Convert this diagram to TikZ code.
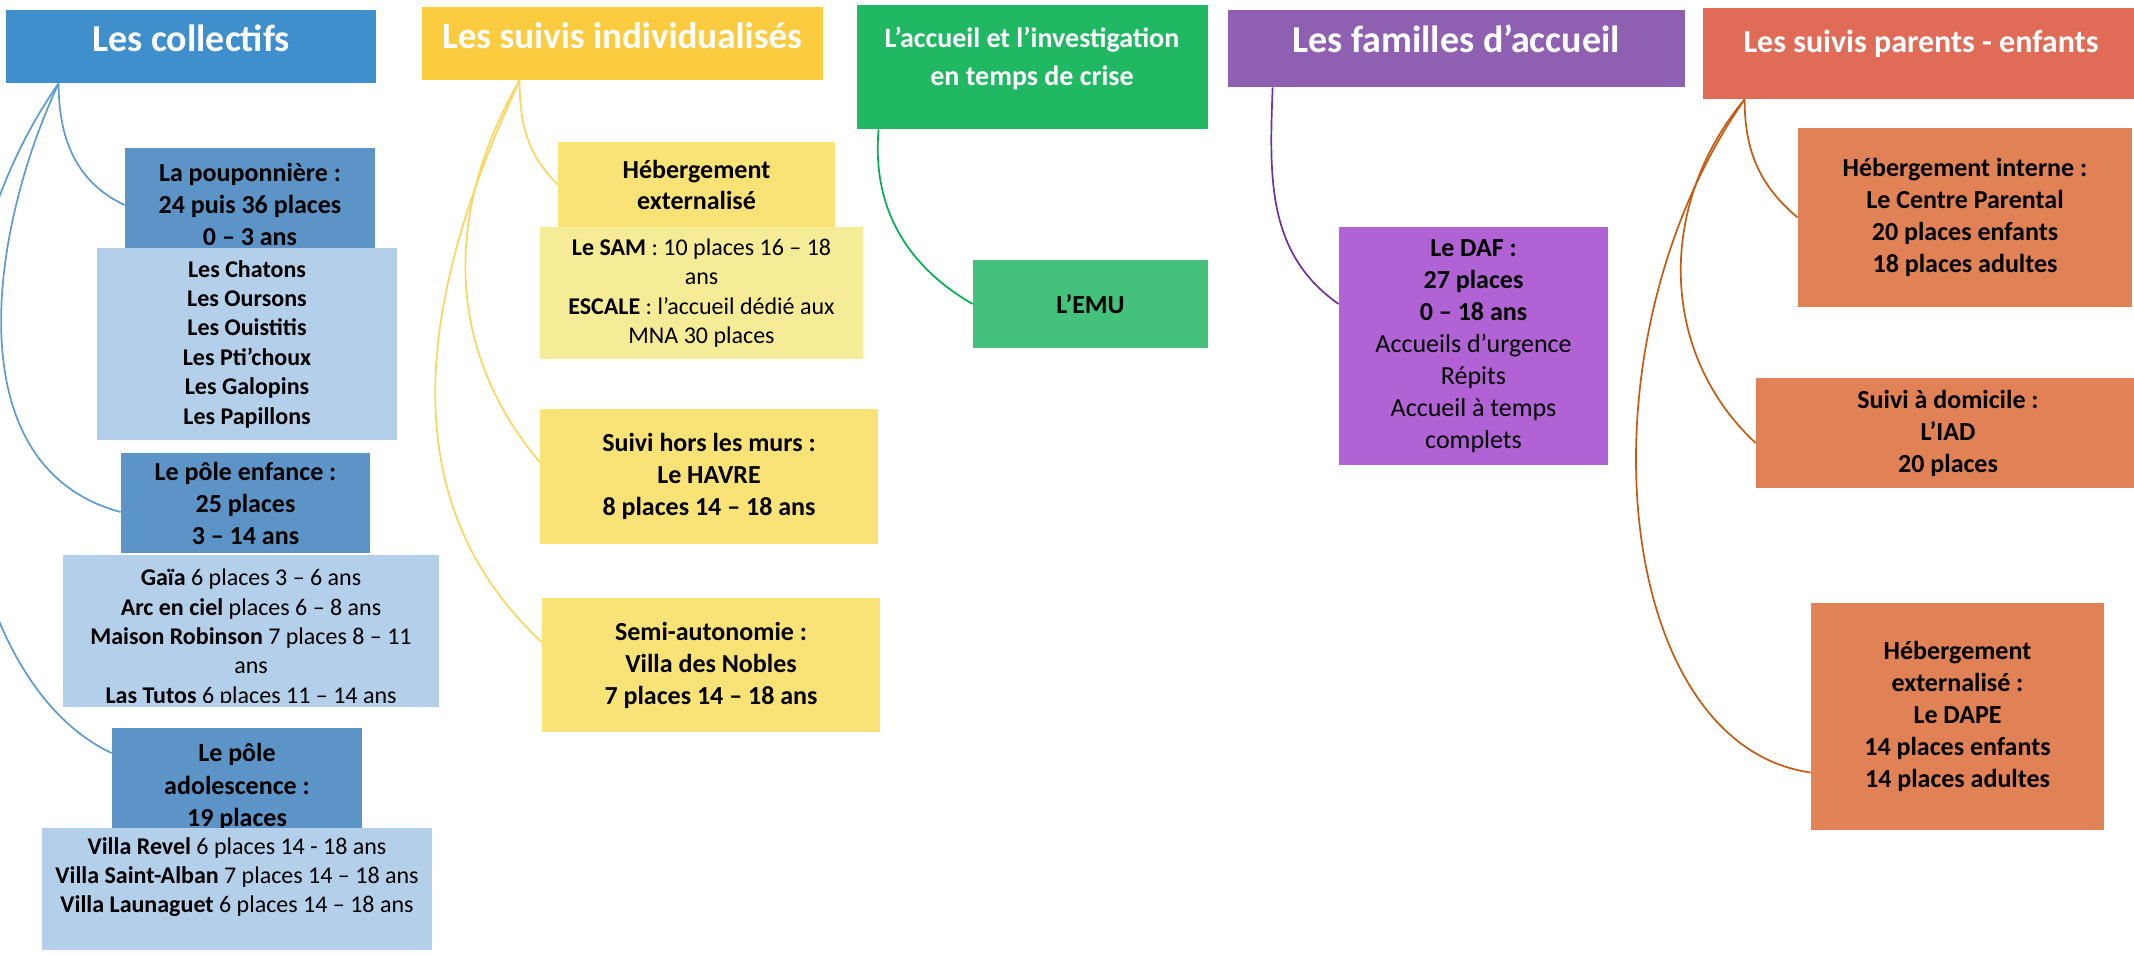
\documentclass[tikz,border=0pt]{standalone}
\usepackage{fontspec}
\setmainfont{Carlito}
\definecolor{HdBlue}{RGB}{62,143,204}
\definecolor{BlueDark}{RGB}{92,148,199}
\definecolor{BlueLight}{RGB}{179,207,233}
\definecolor{HdYellow}{RGB}{251,203,64}
\definecolor{YellowBox}{RGB}{250,227,118}
\definecolor{YellowLight}{RGB}{246,235,150}
\definecolor{HdGreen}{RGB}{33,184,100}
\definecolor{EmuGreen}{RGB}{68,194,124}
\definecolor{HdPurple}{RGB}{143,96,178}
\definecolor{DafPurple}{RGB}{177,99,213}
\definecolor{HdOrange}{RGB}{224,108,88}
\definecolor{OrangeBox}{RGB}{225,129,86}
\definecolor{LineBlue}{RGB}{91,155,213}
\definecolor{LineYellow}{RGB}{255,212,92}
\definecolor{LineGreen}{RGB}{0,176,80}
\definecolor{LinePurple}{RGB}{112,48,160}
\definecolor{LineOrange}{RGB}{197,90,17}

\begin{document}
\begin{tikzpicture}[x = 0.5pt, y = -0.5pt]
\tikzstyle{HeadStyle}=[
shape = rectangle,
inner sep = 0pt]
\tikzstyle{HeadText}=[
anchor = base,
inner sep = 0pt,
text = white,
font = \fontsize{19}{23}\selectfont\bfseries]
\tikzstyle{BoxStyle}=[
shape = rectangle,
inner sep = 0pt,
align = center,
font = \fontsize{13}{16}\selectfont\bfseries]
\tikzstyle{ListStyle}=[
shape = rectangle,
inner sep = 0pt,
align = center,
font = \fontsize{12}{14.7}\selectfont]
\tikzstyle{LinkStyle}=[
line width = 0.85pt]
\useasboundingbox (0,0) rectangle (2134,954);
\clip (0,0) rectangle (2134,954);
\node[HeadStyle, fill = HdBlue, minimum width = 185pt, minimum height = 36.5pt] (collectifs) at (191,46.5) {};
\node[HeadText] (collectifs-t) at (191,51) {Les collectifs};
\node[HeadStyle, fill = BlueDark, minimum width = 125pt, minimum height = 50pt] (poup) at (250,198) {};
\node[BoxStyle] (poup-t) at (250,204) {La pouponnière :\\24 puis 36 places\\0 – 3 ans};
\node[ListStyle, fill = BlueLight, minimum width = 150pt, minimum height = 96pt, font = \fontsize{12}{14.7}\selectfont\bfseries] (poupL) at (247,344) {Les Chatons\\Les Oursons\\Les Ouistitis\\Les Pti’choux\\Les Galopins\\Les Papillons};
\node[BoxStyle, fill = BlueDark, minimum width = 124.5pt, minimum height = 50pt] (enf) at (245.5,503) {Le pôle enfance :\\25 places\\3 – 14 ans};
\node[HeadStyle, fill = BlueLight, minimum width = 188pt, minimum height = 76pt] (enfL) at (251,631) {};
\begin{scope}
\clip (enfL.north west) rectangle ([yshift = 2.5pt]enfL.south east);
\node[ListStyle] (enfL-t) at (251,638) {\textbf{Gaïa} 6 places 3 – 6 ans\\\textbf{Arc en ciel} places 6 – 8 ans\\\textbf{Maison Robinson} 7 places 8 – 11\\ans\\\textbf{Las Tutos} 6 places 11 – 14 ans};
\end{scope}
\node[HeadStyle, fill = BlueDark, minimum width = 125pt, minimum height = 50pt] (ado) at (237,778) {};
\node[BoxStyle, font = \fontsize{13}{16.25}\selectfont\bfseries] (ado-t) at (237,787) {Le pôle\\adolescence :\\19 places};
\node[HeadStyle, fill = BlueLight, minimum width = 195pt, minimum height = 61pt] (adoL) at (237,889) {};
\node[ListStyle] (adoL-t) at (237,877) {\textbf{Villa Revel} 6 places 14 - 18 ans\\\textbf{Villa Saint-Alban} 7 places 14 – 18 ans\\\textbf{Villa Launaguet} 6 places 14 – 18 ans};
\node[HeadStyle, fill = HdYellow, minimum width = 200.5pt, minimum height = 36.5pt] (suivis) at (622.5,43.5) {};
\node[HeadText, font = \fontsize{18.5}{22}\selectfont\bfseries] (suivis-t) at (622,48) {Les suivis individualisés};
\node[BoxStyle, fill = YellowBox, minimum width = 138.5pt, minimum height = 42.5pt, font = \fontsize{13}{15.5}\selectfont\bfseries] (hebext) at (696.5,184.5) {Hébergement\\externalisé};
\node[ListStyle, fill = YellowLight, minimum width = 161.5pt, minimum height = 66pt] (hebextL) at (701.5,293) {\textbf{Le SAM} : 10 places 16 – 18\\ans\\\textbf{ESCALE} : l’accueil dédié aux\\MNA 30 places};
\node[BoxStyle, fill = YellowBox, minimum width = 169pt, minimum height = 67.5pt] (horsmurs) at (709,476.5) {Suivi hors les murs :\\Le HAVRE\\8 places 14 – 18 ans};
\node[BoxStyle, fill = YellowBox, minimum width = 169pt, minimum height = 67pt] (semiauto) at (711,665) {Semi-autonomie :\\Villa des Nobles\\7 places 14 – 18 ans};
\node[HeadStyle, fill = HdGreen, minimum width = 175.5pt, minimum height = 62pt] (crise) at (1032.5,67) {};
\node[HeadText, anchor = center, align = center, font = \fontsize{14}{19}\selectfont\bfseries] (crise-t) at (1032,58.5) {L’accueil et l’investigation\\en temps de crise};
\node[BoxStyle, fill = EmuGreen, minimum width = 117.5pt, minimum height = 44pt] (emu) at (1090.5,304) {L’EMU};
\node[HeadStyle, fill = HdPurple, minimum width = 228.5pt, minimum height = 38.5pt] (familles) at (1456.5,48.5) {};
\node[HeadText] (familles-t) at (1456,52) {Les familles d’accueil};
\node[BoxStyle, fill = DafPurple, minimum width = 134.5pt, minimum height = 119pt, font = \fontsize{13}{16}\selectfont] (daf) at (1473.5,346) {\textbf{Le DAF :}\\\textbf{27 places}\\\textbf{0 – 18 ans}\\Accueils d’urgence\\Répits\\Accueil à temps\\complets};
\node[HeadStyle, fill = HdOrange, minimum width = 218.5pt, minimum height = 45.5pt] (parents) at (1921.5,53.5) {};
\node[HeadText, font = \fontsize{16}{19}\selectfont\bfseries] (parents-t) at (1921,52) {Les suivis parents - enfants};
\node[BoxStyle, fill = OrangeBox, minimum width = 167pt, minimum height = 89.5pt] (hebint) at (1965,217.5) {Hébergement interne :\\Le Centre Parental\\20 places enfants\\18 places adultes};
\node[BoxStyle, fill = OrangeBox, minimum width = 192pt, minimum height = 55pt] (domicile) at (1948,433) {Suivi à domicile :\\L’IAD\\20 places};
\node[BoxStyle, fill = OrangeBox, minimum width = 146.5pt, minimum height = 113.5pt] (dape) at (1957.5,716.5) {Hébergement\\externalisé :\\Le DAPE\\14 places enfants\\14 places adultes};
\draw[LinkStyle, LineBlue] ([xshift = 26.5pt]collectifs.south west) to[out = -90, in = 155] ([yshift = -3.5pt]poup.west);
\draw[LinkStyle, LineBlue] ([xshift = 26.5pt]collectifs.south west) to[out = -115, in = 165] ([yshift = -4.5pt]enf.west);
\draw[LinkStyle, LineBlue] ([xshift = 26.5pt]collectifs.south west) to[out = -125, in = 155, out distance = 140pt, in distance = 90pt] ([yshift = 12.5pt]ado.west);
\draw[LinkStyle, LineYellow] ([xshift = 49pt]suivis.south west) to[out = -90, in = 135] (hebext.west);
\draw[LinkStyle, LineYellow] ([xshift = 49pt]suivis.south west) to[out = -120, in = 130] ([yshift = 7.25pt]horsmurs.west);
\draw[LinkStyle, LineYellow] ([xshift = 49pt]suivis.south west) to[out = -115, in = 137] ([yshift = 11.5pt]semiauto.west);
\draw[LinkStyle, LineGreen] ([xshift = 11pt]crise.south west) to[out = -95, in = 150] (emu.west);
\draw[LinkStyle, LinePurple] ([xshift = 22.5pt]familles.south west) to[out = -92, in = 145] ([yshift = 21pt]daf.west);
\draw[LinkStyle, LineOrange] ([xshift = 21pt]parents.south west) to[out = -90, in = 140] (hebint.west);
\draw[LinkStyle, LineOrange] ([xshift = 21pt]parents.south west) to[out = -130, in = 137] ([yshift = -5pt]domicile.west);
\draw[LinkStyle, LineOrange] ([xshift = 21pt]parents.south west) to[out = -125, in = 172, out distance = 150pt, in distance = 100pt] ([yshift = -28pt]dape.west);
\end{tikzpicture}
\end{document}
